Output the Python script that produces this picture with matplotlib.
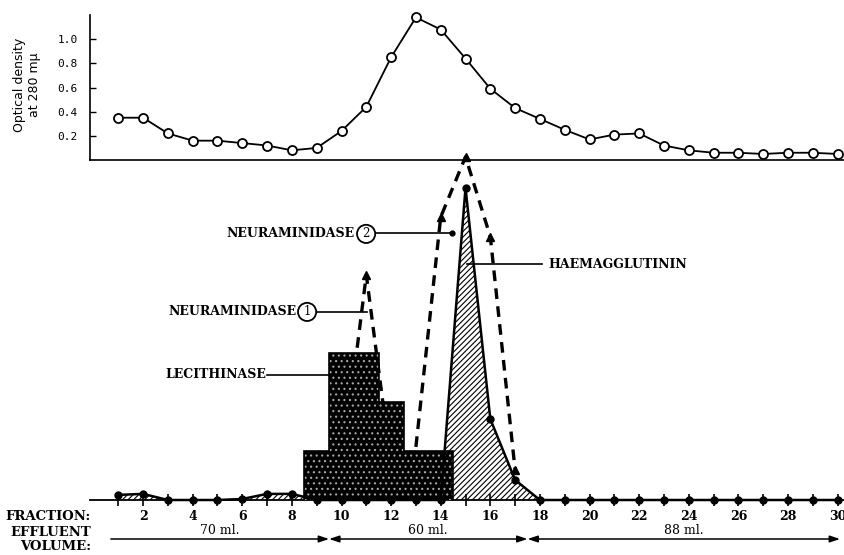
import matplotlib
matplotlib.use("Agg")
import matplotlib.pyplot as plt

# Fracciones de la columna y lecturas
fracciones = list(range(1, 31))
densidad_optica = [0.35, 0.35, 0.22, 0.16, 0.16, 0.14, 0.12, 0.08, 0.10, 0.24,
                   0.44, 0.85, 1.18, 1.08, 0.84, 0.59, 0.43, 0.34, 0.25, 0.17,
                   0.21, 0.22, 0.12, 0.08, 0.06, 0.06, 0.05, 0.06, 0.06, 0.05]
hemaglutinina = [1.5, 1.8, 0, 0, 0, 0.3, 1.8, 1.8, 0, 0,
                 0, 0, 0, 0, 91.8, 23.8, 5.9, 0, 0, 0,
                 0, 0, 0, 0, 0, 0, 0, 0, 0, 0]

lec_fr = [9, 10, 11, 12, 13, 14]
lecitinasa = [14.5, 43.2, 43.2, 28.8, 14.5, 14.5]

na1_fr = [10, 11, 12]
neuraminidasa1 = [8, 66.2, 10]
na2_fr = [13, 14, 15, 16, 17]
neuraminidasa2 = [15.6, 83.2, 100.9, 77.4, 8.8]

tramos = [(0.7, 9.5), (9.5, 17.5), (17.5, 30.1)]
volumenes = ["70 ml.", "60 ml.", "88 ml."]

plt.rcParams["hatch.linewidth"] = 0.8
SERIF = {"family": "DejaVu Serif", "weight": "bold", "size": 9}

fig = plt.figure(figsize=(8.45, 5.55), dpi=100)
W, H = 845, 555
XLIM = (-0.14, 30.3)

# --- panel superior: densidad óptica ---
ax1 = fig.add_axes([90 / W, (H - 160) / H, 755 / W, 145 / H])
ax1.plot(fracciones, densidad_optica, "-o", color="black", lw=1.3,
         mfc="white", mec="black", mew=1.3, ms=6.5, clip_on=False, zorder=3)
ax1.set_xlim(*XLIM)
ax1.set_ylim(0, 1.2)
ax1.set_yticks([0.2, 0.4, 0.6, 0.8, 1.0])
ax1.set_yticklabels(["0.2", "0.4", "0.6", "0.8", "1.0"],
                    family="DejaVu Sans Mono", size=8)
ax1.tick_params(axis="y", direction="in", length=4, width=1, pad=9)
ax1.set_xticks([])
for s in ("top", "right"):
    ax1.spines[s].set_visible(False)
for s in ("left", "bottom"):
    ax1.spines[s].set_linewidth(1.2)
ax1.text(-0.083, 0.52, "Optical density\nat 280 mμ", transform=ax1.transAxes,
         rotation=90, ha="center", va="center", size=9, linespacing=1.2)

# --- panel inferior: actividades enzimáticas ---
ax2 = fig.add_axes([90 / W, 55 / H, 755 / W, 350 / H])
ax2.patch.set_alpha(0)
ax2.set_xlim(*XLIM)
ax2.set_ylim(0, 102.9)

# hemaglutinina: área rayada
ax2.fill_between(fracciones, hemaglutinina, 0, facecolor="white",
                 edgecolor="black", hatch="//////", linewidth=0, zorder=1)

# neuraminidasa: curvas discontinuas con triángulos
ax2.plot(na1_fr, neuraminidasa1, color="black", lw=2.4, ls=(0, (3.2, 2.2)),
         marker="^", ms=6, markevery=[1], zorder=2)
ax2.plot(na2_fr, neuraminidasa2, color="black", lw=2.4, ls=(0, (3.2, 2.2)),
         marker="^", ms=6, markevery=[1, 2, 3, 4], zorder=2)

# lecitinasa: histograma punteado, contorno sin divisiones internas
ax2.bar(lec_fr, lecitinasa, width=1.0, color="black", edgecolor="#a8a8a8",
        hatch="...", linewidth=0, zorder=3)
bordes = [f - 0.5 for f in lec_fr] + [lec_fr[-1] + 0.5]
ax2.stairs(lecitinasa, bordes, baseline=0, color="black", lw=1.2, zorder=3.1)

ax2.plot(fracciones, hemaglutinina, "-o", color="black", lw=1.8, ms=5,
         clip_on=False, zorder=4)

ax2.set_xticks(range(2, 31, 2))
ax2.set_xticks(range(1, 31, 2), minor=True)
ax2.set_xticklabels([str(v) for v in range(2, 31, 2)], fontdict=SERIF)
ax2.tick_params(axis="x", which="both", direction="inout", length=8,
                width=1.2, pad=3)
ax2.set_yticks([])
for s in ("top", "right", "left"):
    ax2.spines[s].set_visible(False)
ax2.spines["bottom"].set_linewidth(1.3)


# etiquetas con línea indicadora
def fx(px):
    return (px - 143) / 24.8 + 2


def fy(py):
    return (500 - py) / 3.4


def circulo(x, y, n):
    ax2.text(x, y, n, ha="center", va="center", family="DejaVu Serif",
             size=8.5,
             bbox=dict(boxstyle="circle,pad=0.22", fc="white", ec="black", lw=1.3))


ax2.text(fx(354), fy(234), "NEURAMINIDASE", ha="right", va="center", fontdict=SERIF)
circulo(fx(366), fy(234), "2")
ax2.plot([fx(376), fx(452)], [fy(233), fy(233)], color="black", lw=1.2,
         marker="o", ms=3.5, markevery=[1], zorder=5)

ax2.text(fx(296), fy(312), "NEURAMINIDASE", ha="right", va="center", fontdict=SERIF)
circulo(fx(307), fy(312), "1")
ax2.plot([fx(317), fx(367)], [fy(312), fy(312)], color="black", lw=1.2, zorder=5)

ax2.text(fx(266), fy(375), "LECITHINASE", ha="right", va="center", fontdict=SERIF)
ax2.plot([fx(267), fx(330)], [fy(375), fy(375)], color="black", lw=1.2, zorder=5)

ax2.text(fx(548), fy(265), "HAEMAGGLUTININ", ha="left", va="center", fontdict=SERIF)
ax2.plot([fx(467), fx(542)], [fy(264), fy(264)], color="black", lw=1.2, zorder=5)

# volumen de efluente
for (a, b), txt in zip(tramos, volumenes):
    estilo = "-|>" if a < 1 else "<|-|>"
    ax2.annotate("", xy=(b, H - 539), xytext=(a, H - 539),
                 xycoords=("data", "figure pixels"),
                 textcoords=("data", "figure pixels"),
                 arrowprops=dict(arrowstyle=estilo + ",head_length=0.6,head_width=0.2",
                                 color="black", lw=1.1, shrinkA=0, shrinkB=0))
    ax2.annotate(txt, xy=((a + b) / 2, H - 531), xycoords=("data", "figure pixels"),
                 ha="center", va="center", family="DejaVu Serif", size=9)

for texto, py in (("FRACTION:", 517), ("EFFLUENT", 532), ("VOLUME:", 547)):
    fig.text(91 / W, (H - py) / H, texto, ha="right", va="center",
             family="DejaVu Serif", weight="bold", size=9.5)

fig.savefig("out.png", dpi=100)
